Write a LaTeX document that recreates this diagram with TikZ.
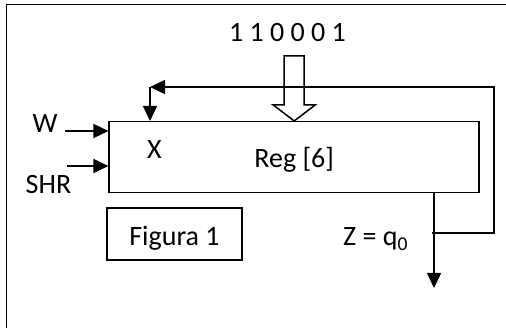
\documentclass[tikz,border=0pt]{standalone}
\usepackage{fontspec}
\setmainfont{Carlito}
\usetikzlibrary{arrows.meta,positioning}

\begin{document}
\begin{tikzpicture}[
  x=1pt,y=-1pt,
  font=\fontsize{28}{34}\selectfont,
  line width=1.5pt,
  box/.style={draw,minimum width=370pt,minimum height=71pt,inner sep=0pt,text height=20pt,text depth=0pt},
  fbox/.style={draw,minimum width=135pt,minimum height=52pt,inner sep=0pt,text height=24pt,text depth=0pt},
  lbl/.style={inner sep=0pt,anchor=base},
  arr/.style={-{Triangle[length=15pt,width=14pt]}},
  fat/.style={draw,line join=miter}
]
\useasboundingbox (0,0) rectangle (506,328);
\clip (0,0) rectangle (506,328);
\draw (6.5,4.5) rectangle (530,350);

\node[box] (reg) at (294.2,157.2) {Reg [6]};
\node[fbox] (fig) at (174.5,234) {Figura 1};
\node[lbl] (bits) at (287.5,42) {1 1 0 0 0 1};
\node[lbl] (wlbl) at (45,133) {W};
\node[lbl] (shrlbl) at (48.5,194) {SHR};
\node[lbl] (xlbl) at (154.5,159) {X};
\node[lbl] (zlbl) at (375.5,246) {Z = q\textsubscript{0}};

\coordinate (win) at (65,131);
\coordinate (sin) at (67,166);
\coordinate (zout) at (434,288);
\coordinate (tap) at (432,233);
\coordinate (fbR) at (494,87);
\coordinate (fbL) at (150,87);

% inputs
\draw[arr] (win) -- (win -| reg.west);
\draw[arr] (sin) -- (sin -| reg.west);
\draw[fat] (reg.north) -- ++(-21,-16) -- ++(11,0) -- ++(0,-49)
  -- ++(20,0) -- ++(0,49) -- ++(11,0) -- cycle;

% output and feedback
\draw[arr] (reg.south -| zout) -- (zout);
\draw[arr] (tap) -- (tap -| fbR) -- (fbR) -- (fbL);
\draw[arr] (fbL) -- (fbL |- reg.north);
\end{tikzpicture}
\end{document}
